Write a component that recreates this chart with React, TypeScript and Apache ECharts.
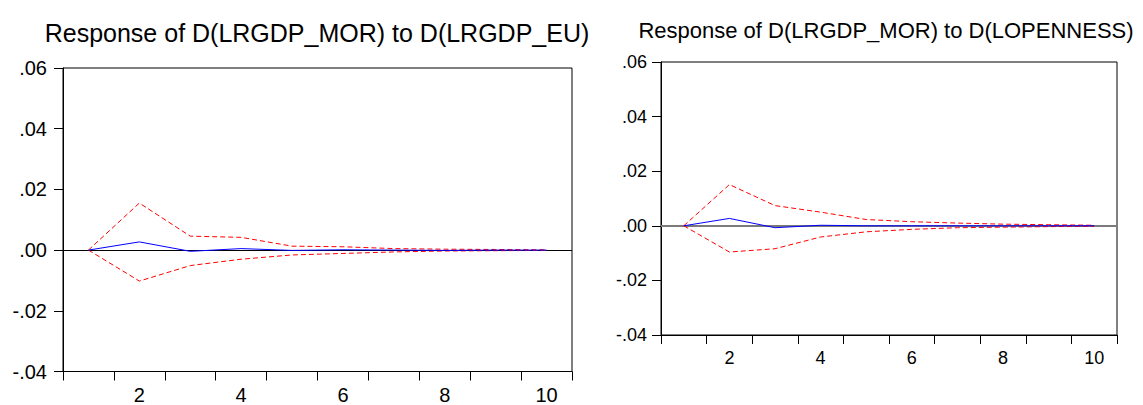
import React, { useEffect, useRef } from "react";
import * as echarts from "echarts";

const periods = ["1", "2", "3", "4", "5", "6", "7", "8", "9", "10"];

const titleEU = "Response of D(LRGDP_MOR) to D(LRGDP_EU)";
const titleOpen = "Response of D(LRGDP_MOR) to D(LOPENNESS)";

const euResp = [0, 0.0027, -0.0004, 0.0005, -0.0001, 0.0001, 0, -0.0001, 0, 0];
const euUpper = [0, 0.0155, 0.0046, 0.0042, 0.0013, 0.0011, 0.0005, 0.0003, 0.0002, 0.0001];
const euLower = [0, -0.0102, -0.0051, -0.003, -0.0016, -0.0011, -0.0006, -0.0003, -0.0002, -0.0001];

const openResp = [0, 0.0027, -0.0007, 0.0002, 0, 0, 0, 0, 0, 0];
const openUpper = [0, 0.0151, 0.0074, 0.005, 0.0023, 0.0015, 0.001, 0.0006, 0.0004, 0.0002];
const openLower = [0, -0.0096, -0.0084, -0.0041, -0.0022, -0.0013, -0.0007, -0.0005, -0.0003, -0.0002];

const yMin = -0.04;
const yMax = 0.06;
const yStep = 0.02;

const FONT = '"Liberation Sans", Arial, sans-serif';

function fmt(v: number): string {
  const s = Math.abs(v).toFixed(2).replace(/^0/, "");
  return (v < -1e-9 ? "-" : "") + s;
}

export default function App() {
  const ref = useRef<HTMLDivElement>(null);

  useEffect(() => {
    if (!ref.current) return;
    const chart = echarts.init(ref.current, undefined, { renderer: "svg" });

    const mkX = (gi: number, fs: number, margin: number) => ({
      type: "category" as const,
      gridIndex: gi,
      data: periods,
      boundaryGap: true,
      axisLine: { show: true, onZero: false, lineStyle: { color: "#000", width: 1 } },
      axisTick: { show: true, interval: 0, length: 9, inside: false, lineStyle: { color: "#000" } },
      axisLabel: {
        interval: (i: number) => i % 2 === 1,
        color: "#000",
        fontSize: fs,
        fontFamily: FONT,
        margin,
      },
      splitLine: { show: false },
    });

    const mkY = (gi: number, fs: number, margin: number) => ({
      type: "value" as const,
      gridIndex: gi,
      min: yMin,
      max: yMax,
      interval: yStep,
      axisLine: { show: true, onZero: false, lineStyle: { color: "#000", width: 1 } },
      axisTick: { show: true, length: 9, inside: false, lineStyle: { color: "#000" } },
      axisLabel: { color: "#000", fontSize: fs, fontFamily: FONT, margin, formatter: fmt },
      splitLine: { show: false },
    });

    const dashed = (data: number[], gi: number) => ({
      type: "line" as const,
      xAxisIndex: gi,
      yAxisIndex: gi,
      data,
      symbol: "none",
      showSymbol: false,
      silent: true,
      lineStyle: { color: "#ff0000", width: 1, type: [5, 3] },
      z: 3,
    });

    const solid = (data: number[], gi: number, zeroColor: string, zeroWidth: number) => ({
      type: "line" as const,
      xAxisIndex: gi,
      yAxisIndex: gi,
      data,
      symbol: "none",
      showSymbol: false,
      silent: true,
      lineStyle: { color: "#0000ff", width: 1 },
      z: 4,
      markLine: {
        silent: true,
        symbol: ["none", "none"],
        label: { show: false },
        lineStyle: { color: zeroColor, width: zeroWidth, type: "solid" },
        data: [{ yAxis: 0 }],
        z: 2,
      },
    });

    chart.setOption({
      animation: false,
      backgroundColor: "#fff",
      grid: [
        { left: 63, top: 68, width: 509, height: 305, show: true, borderColor: "#000", borderWidth: 1, backgroundColor: "transparent" },
        { left: 661, top: 62, width: 456, height: 273, show: true, borderColor: "#000", borderWidth: 1, backgroundColor: "transparent" },
      ],
      xAxis: [mkX(0, 20, 13.5), mkX(1, 18, 14)],
      yAxis: [mkY(0, 20, 16), mkY(1, 18, 14)],
      series: [
        dashed(euUpper, 0),
        dashed(euLower, 0),
        solid(euResp, 0, "#000", 1),
        dashed(openUpper, 1),
        dashed(openLower, 1),
        solid(openResp, 1, "#7a7a7a", 2),
      ],
      graphic: [
        {
          type: "text",
          x: 317,
          y: 33,
          style: { text: titleEU, fontSize: 25, fontFamily: FONT, fill: "#000", textAlign: "center", textVerticalAlign: "middle" },
        },
        {
          type: "text",
          x: 886,
          y: 30.5,
          style: { text: titleOpen, fontSize: 22, fontFamily: FONT, fill: "#000", textAlign: "center", textVerticalAlign: "middle" },
        },
      ],
    });

    return () => chart.dispose();
  }, []);

  return (
    <div
      ref={ref}
      style={{ position: "fixed", left: 0, top: 0, width: 1143, height: 405, background: "#fff" }}
    />
  );
}
